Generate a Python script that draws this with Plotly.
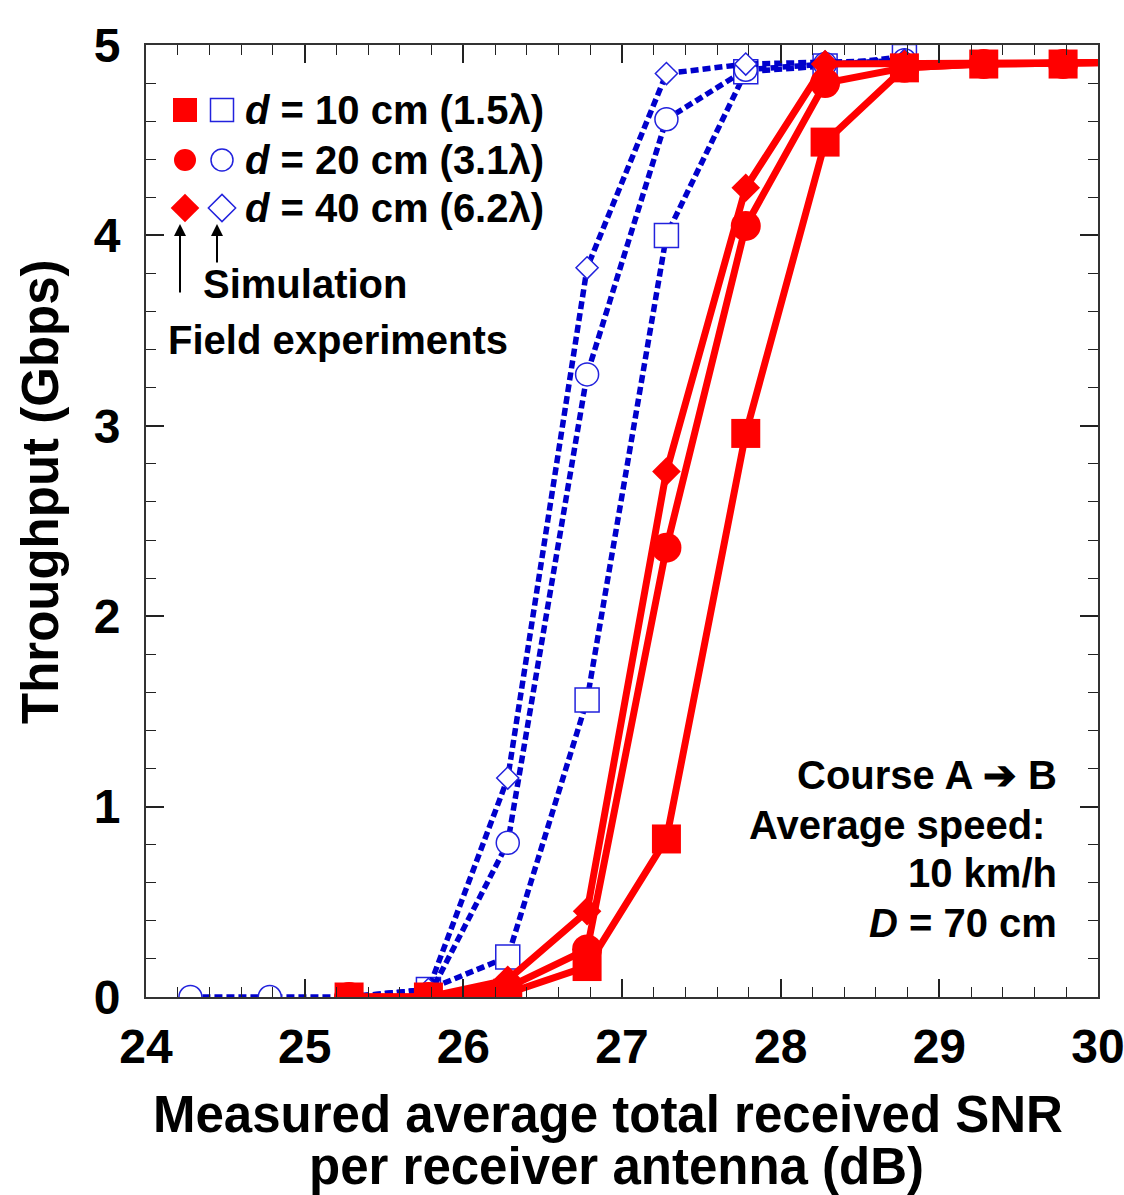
import plotly.graph_objects as go

# ---------------- data ----------------
sim_x_10 = [25.28, 25.78, 26.28, 26.78, 27.28, 27.78, 28.28, 28.78]
sim_y_10 = [0.0, 0.04, 0.21, 1.56, 4.00, 4.86, 4.89, 4.94]

sim_x_20 = [24.28, 24.78, 25.28, 25.78, 26.28, 26.78, 27.28, 27.78, 28.28, 28.78]
sim_y_20 = [0.0, 0.0, 0.0, 0.0, 0.81, 3.27, 4.61, 4.87, 4.90, 4.92]

sim_x_40 = [25.28, 25.78, 26.28, 26.78, 27.28, 27.78, 28.28, 28.78]
sim_y_40 = [0.0, 0.04, 1.15, 3.83, 4.85, 4.90, 4.91, 4.92]

exp_x = [25.28, 25.78, 26.28, 26.78, 27.28, 27.78, 28.28, 28.78, 29.28, 29.78, 30.28]
exp_y_10 = [0.0, 0.0, 0.02, 0.16, 0.83, 2.96, 4.49, 4.88, 4.90, 4.90, 4.91]
exp_y_20 = [0.0, 0.0, 0.05, 0.25, 2.36, 4.05, 4.80, 4.88, 4.90, 4.90, 4.91]
exp_y_40 = [0.0, 0.0, 0.09, 0.45, 2.76, 4.25, 4.90, 4.90, 4.90, 4.90, 4.91]

x_ticks = [24, 25, 26, 27, 28, 29, 30]
y_ticks = [0, 1, 2, 3, 4, 5]

legend_labels = ["<i>d</i> = 10 cm (1.5λ)", "<i>d</i> = 20 cm (3.1λ)", "<i>d</i> = 40 cm (6.2λ)"]
note_lines = ["Course A ➔ B", "Average speed: ", "10 km/h", "<i>D</i> = 70 cm"]

# ---------------- layout geometry (pixels) ----------------
W, H = 1124, 1195
L, R, T, B = 146, 1098, 45, 997
FONT = "Liberation Sans, Arial, sans-serif"
RED = "#FF0000"
BLUE_LINE = "#0000CC"
BLUE_MK = "#2222DD"


def px(x):
    return (x - L) / (R - L)


def py(y):
    return (B - y) / (B - T)


fig = go.Figure()

blue_dash = "8px,4px"
sim_sets = [
    (sim_x_10, sim_y_10, "square", 24),
    (sim_x_20, sim_y_20, "circle", 23),
    (sim_x_40, sim_y_40, "diamond", 17),
]
for xs, ys, sym, sz in sim_sets:
    fig.add_trace(go.Scatter(
        x=xs, y=ys, mode="lines+markers",
        line=dict(color=BLUE_LINE, width=5.5, dash=blue_dash),
        marker=dict(symbol=sym, size=sz, color="white",
                    line=dict(color=BLUE_MK, width=1.5)),
        showlegend=False, cliponaxis=True))

exp_sets = [
    (exp_y_40, "diamond", 22),
    (exp_y_20, "circle", 30),
    (exp_y_10, "square", 29),
]
for ys, sym, sz in exp_sets:
    fig.add_trace(go.Scatter(
        x=exp_x, y=ys, mode="lines+markers",
        line=dict(color=RED, width=7),
        marker=dict(symbol=sym, size=sz, color=RED, line=dict(width=0)),
        showlegend=False, cliponaxis=True))

# legend keys on a hidden pixel overlay axis
leg_rows_y = [110, 160, 208]
red_syms = [("square", 24), ("circle", 22), ("diamond", 22)]
blue_syms = [("square", 23), ("circle", 22), ("diamond", 21)]
for i, yy in enumerate(leg_rows_y):
    fig.add_trace(go.Scatter(
        x=[185], y=[yy], mode="markers", xaxis="x2", yaxis="y2",
        marker=dict(symbol=red_syms[i][0], size=red_syms[i][1], color=RED, line=dict(width=0)),
        showlegend=False, hoverinfo="skip"))
    fig.add_trace(go.Scatter(
        x=[222], y=[yy], mode="markers", xaxis="x2", yaxis="y2",
        marker=dict(symbol=blue_syms[i][0], size=blue_syms[i][1], color="white",
                    line=dict(color=BLUE_MK, width=1.5)),
        showlegend=False, hoverinfo="skip"))

TXT = dict(family=FONT, size=40, color="black", weight="bold")
annos = []
for lab, yy in zip(legend_labels, leg_rows_y):
    annos.append(dict(x=px(243), y=py(yy), xref="paper", yref="paper", text=lab,
                      showarrow=False, xanchor="left", yanchor="middle", font=TXT))
annos.append(dict(x=px(201), y=py(284), xref="paper", yref="paper", text="Simulation",
                  showarrow=False, xanchor="left", yanchor="middle", font=TXT))
annos.append(dict(x=px(166), y=py(340), xref="paper", yref="paper", text="Field experiments",
                  showarrow=False, xanchor="left", yanchor="middle", font=TXT))
# arrows
annos.append(dict(x=px(180), y=py(224), xref="paper", yref="paper", text="",
                  showarrow=True, ax=0, ay=70, arrowhead=2, arrowsize=1.2,
                  arrowwidth=2, arrowcolor="black"))
annos.append(dict(x=px(217), y=py(224), xref="paper", yref="paper", text="",
                  showarrow=True, ax=0, ay=40, arrowhead=2, arrowsize=1.2,
                  arrowwidth=2, arrowcolor="black"))
for lab, yy in zip(note_lines, [775, 825, 873, 923]):
    annos.append(dict(x=px(1059), y=py(yy), xref="paper", yref="paper", text=lab,
                      showarrow=False, xanchor="right", yanchor="middle", font=TXT))
# axis titles
TTL = dict(family=FONT, size=51, color="black", weight="bold")
annos.append(dict(x=px(608), y=py(1114), xref="paper", yref="paper",
                  text="Measured average total received SNR",
                  showarrow=False, xanchor="center", yanchor="middle", font=TTL))
annos.append(dict(x=px(616), y=py(1166), xref="paper", yref="paper",
                  text="per receiver antenna (dB)",
                  showarrow=False, xanchor="center", yanchor="middle", font=TTL))
annos.append(dict(x=px(40), y=py(492), xref="paper", yref="paper",
                  text="Throughput (Gbps)", textangle=-90,
                  showarrow=False, xanchor="center", yanchor="middle", font=TTL))

axis_common = dict(
    showgrid=False, zeroline=False, showline=True, linecolor="#333333", linewidth=2,
    mirror="ticks", ticks="inside", ticklen=18, tickwidth=1.5, tickcolor="#222222",
    tickfont=dict(family=FONT, size=48, color="black", weight="bold"),
    ticklabeloverflow="allow", automargin=False,
    minor=dict(ticks="inside", ticklen=10, tickwidth=1.2, tickcolor="#222222", dtick=0.2),
)

fig.update_layout(
    width=W, height=H,
    margin=dict(l=L, r=W - R, t=T, b=H - B, autoexpand=False),
    paper_bgcolor="white", plot_bgcolor="white",
    showlegend=False,
    xaxis=dict(range=[24, 30], tickvals=x_ticks, ticktext=[str(v) for v in x_ticks],
               ticklabelstandoff=6, **axis_common),
    yaxis=dict(range=[0, 5], tickvals=y_ticks, ticktext=[str(v) for v in y_ticks],
               ticklabelstandoff=14, **axis_common),
    xaxis2=dict(range=[L, R], overlaying="x", visible=False, fixedrange=True),
    yaxis2=dict(range=[B, T], overlaying="y", visible=False, fixedrange=True),
    annotations=annos,
)

fig.write_html("out.html")
